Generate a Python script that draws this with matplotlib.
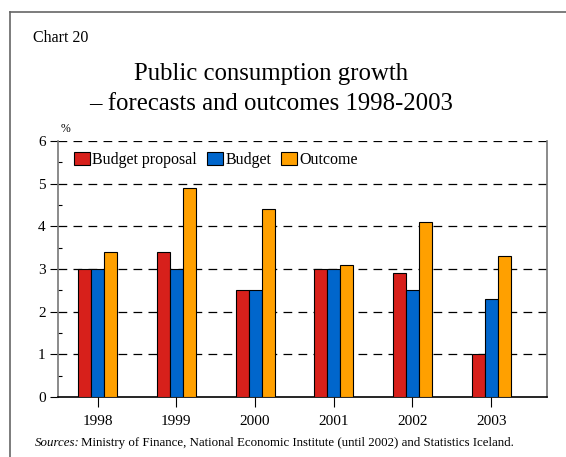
import matplotlib.pyplot as plt
import numpy as np
from matplotlib.lines import Line2D

plt.rcParams['font.family'] = ['Liberation Serif', 'DejaVu Serif']

# Data
years = ['1998', '1999', '2000', '2001', '2002', '2003']
budget_proposal = [3.0, 3.4, 2.5, 3.0, 2.9, 1.0]
budget = [3.0, 3.0, 2.5, 3.0, 2.5, 2.3]
outcome = [3.4, 4.9, 4.4, 3.1, 4.1, 3.3]

W, H = 566, 457
fig = plt.figure(figsize=(W / 100, H / 100), dpi=100)

# Outer frame (top and left lines)
fig.add_artist(Line2D([10 / W, 1], [1 - 12 / H, 1 - 12 / H], color='#666666', lw=1.2))
fig.add_artist(Line2D([10 / W, 10 / W], [0, 1 - 12 / H], color='#666666', lw=1.2))

fig.text(33 / W, 1 - 42 / H, 'Chart 20', fontsize=11.5, va='baseline')
fig.text(271 / W, 1 - 80 / H, 'Public consumption growth', fontsize=17.8, ha='center', va='baseline')
fig.text(271 / W, 1 - 110 / H, '– forecasts and outcomes 1998-2003', fontsize=17.8, ha='center', va='baseline')
fig.text(61 / W, 1 - 132 / H, '%', fontsize=8.5, va='baseline')

ax = fig.add_axes([58 / W, 1 - 397 / H, 489 / W, 256 / H])
x = np.arange(len(years))
bw = 0.165
ax.bar(x - bw, budget_proposal, bw, color='#d7201b', edgecolor='black', lw=0.8, label='Budget proposal', zorder=3)
ax.bar(x, budget, bw, color='#0066cc', edgecolor='black', lw=0.8, label='Budget', zorder=3)
ax.bar(x + bw, outcome, bw, color='#ffa000', edgecolor='black', lw=0.8, label='Outcome', zorder=3)

ax.set_xlim(-0.505, 5.71)
ax.set_ylim(0, 6)
ax.set_xticks(x)
ax.set_xticklabels(years, fontsize=11)
ax.set_yticks(range(0, 7))
ax.set_yticklabels([str(v) for v in range(0, 7)], fontsize=11)
ax.set_yticks(np.arange(0.5, 6, 1), minor=True)
ax.tick_params(axis='y', which='major', direction='out', length=6, width=0.8, pad=3)
ax.tick_params(axis='y', which='minor', direction='in', length=3, width=0.8)
ax.tick_params(axis='x', direction='out', length=7, width=0.8, pad=6)

for v in range(1, 7):
    ax.axhline(v, color='black', lw=0.9, ls=(0, (7, 5)), zorder=1)

ax.spines['top'].set_visible(False)
ax.spines['left'].set_color('#777777')
ax.spines['right'].set_color('#777777')
ax.spines['left'].set_linewidth(1.2)
ax.spines['right'].set_linewidth(1.2)
ax.spines['bottom'].set_linewidth(1.2)

ax.legend(loc='upper left', ncol=3, frameon=False, fontsize=11.5, bbox_to_anchor=(0.01, 1.0),
          handlelength=1.0, handleheight=0.85, handletextpad=0.15, columnspacing=0.6, borderaxespad=0.3)

fig.text(35 / W, 1 - 446 / H, 'Sources:', fontsize=9.3, style='italic', va='baseline')
fig.text(81 / W, 1 - 446 / H, 'Ministry of Finance, National Economic Institute (until 2002) and Statistics Iceland.',
         fontsize=9.3, va='baseline')

fig.savefig('out.png', dpi=100)
